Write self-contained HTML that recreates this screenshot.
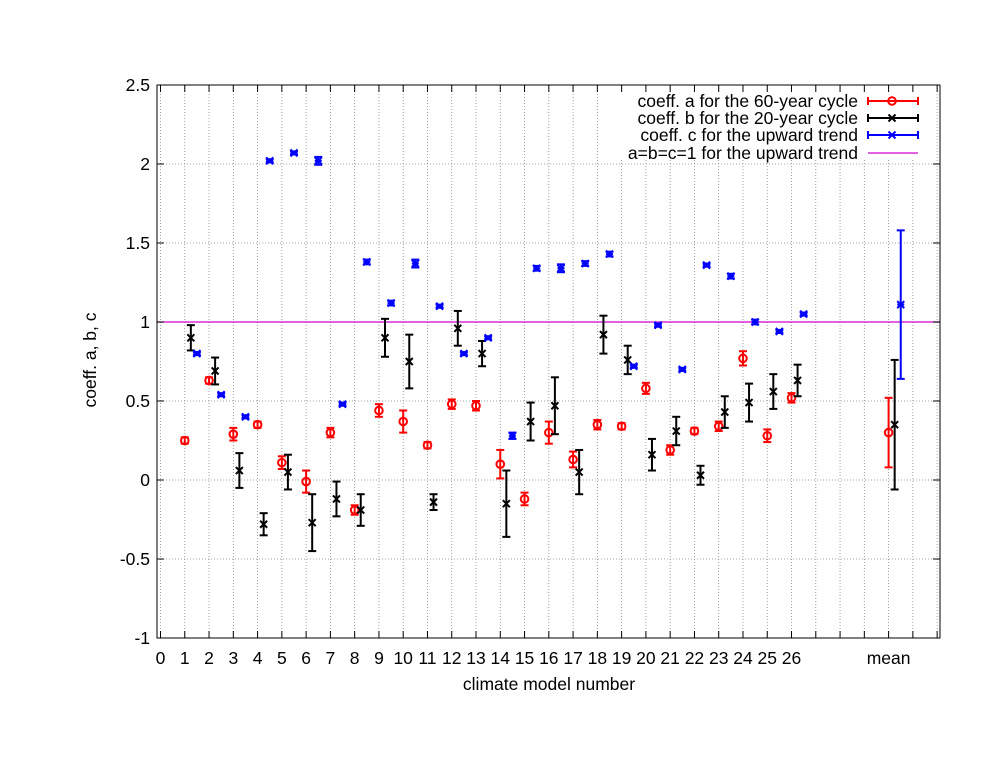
<!DOCTYPE html>
<html><head><meta charset="utf-8"><style>
body{margin:0;background:#fff}
svg text{font-family:"Liberation Sans",sans-serif;font-size:17.5px;fill:#000}
</style></head><body>
<svg id="s" width="994" height="768" xmlns="http://www.w3.org/2000/svg">
<rect width="994" height="768" fill="#fff"/>
<g id="grid" stroke="#888" stroke-width="0.8" stroke-dasharray="1,2"></g>
<line x1="157" y1="322" x2="940" y2="322" stroke="#d000d0" stroke-width="1.2"/>
<rect x="600" y="90" width="330" height="70" fill="#fff"/>
<g id="ticks" stroke="#000" stroke-width="1"></g>
<rect x="157" y="85" width="783" height="553" fill="none" stroke="#000" stroke-width="1"/>
<g id="lab"></g>
<g id="data"></g>
<g>
<text x="858" y="107" text-anchor="end">coeff. a for the 60-year cycle</text>
<text x="858" y="124" text-anchor="end">coeff. b for the 20-year cycle</text>
<text x="858" y="141" text-anchor="end">coeff. c for the upward trend</text>
<text x="858" y="159" text-anchor="end">a=b=c=1 for the upward trend</text>
<line x1="868" y1="153" x2="918" y2="153" stroke="#d000d0" stroke-width="1.2"/>
</g>
<text x="549" y="690" text-anchor="middle">climate model number</text>
<text transform="translate(96,360) rotate(-90)" text-anchor="middle">coeff. a, b, c</text>
</svg>
<script>
var NS="http://www.w3.org/2000/svg";
function el(p,t,a,txt){var e=document.createElementNS(NS,t);for(var k in a)e.setAttribute(k,a[k]);if(txt!==undefined)e.textContent=txt;document.getElementById(p).appendChild(e);return e;}
function X(v){return 160.5+v*24.27;}
function Y(v){return 480-v*158;}
var yl=["-1","-0.5","0","0.5","1","1.5","2","2.5"];
for(var i=0;i<8;i++){var v=-1+i*0.5,y=Y(v);
 if(i>0&&i<7)el("grid","line",{x1:157,x2:940,y1:y,y2:y});
 el("ticks","line",{x1:157,x2:164,y1:y,y2:y});el("ticks","line",{x1:940,x2:933,y1:y,y2:y});
 el("lab","text",{x:150,y:y+6,"text-anchor":"end"},yl[i]);}
var xt=[];for(var i=0;i<=26;i++)xt.push([i,""+i]);xt.push([30,"mean"]);xt.push([29,""]);xt.push([31,""]);xt.push([27,""]);xt.push([28,""]);xt.push([32,""]);
xt.forEach(function(t){var x=X(t[0]);if(x>940)return;
 el("grid","line",{x1:x,x2:x,y1:85,y2:638});
 el("ticks","line",{x1:x,x2:x,y1:638,y2:631});el("ticks","line",{x1:x,x2:x,y1:85,y2:92});
 if(t[1])el("lab","text",{x:x,y:664,"text-anchor":"middle"},t[1]);});
var d=[
[.25,.02,.90,.08,.80,.01],[.63,.02,.69,.085,.54,.01],[.29,.04,.06,.11,.40,.01],[.35,.02,-.28,.07,2.02,.01],
[.11,.04,.05,.11,2.07,.01],[-.01,.07,-.27,.18,2.02,.025],[.30,.03,-.12,.11,.48,.01],[-.19,.03,-.19,.10,1.38,.015],
[.44,.04,.90,.12,1.12,.015],[.37,.07,.75,.17,1.37,.025],[.22,.02,-.14,.05,1.10,.01],[.48,.03,.96,.11,.80,.01],
[.47,.03,.80,.08,.90,.01],[.10,.09,-.15,.21,.28,.02],[-.12,.04,.37,.12,1.34,.015],[.30,.07,.47,.18,1.34,.025],
[.13,.05,.05,.14,1.37,.015],[.35,.03,.92,.12,1.43,.015],[.34,.02,.76,.09,.72,.01],[.58,.035,.16,.10,.98,.01],
[.19,.03,.31,.09,.70,.01],[.31,.02,.03,.06,1.36,.01],[.34,.03,.43,.10,1.29,.015],[.77,.045,.49,.12,1.00,.015],
[.28,.04,.56,.11,.94,.01],[.52,.03,.63,.10,1.05,.01]];
function eb(x,v,e,c){var y1=Y(v-e),y2=Y(v+e);
 el("data","line",{x1:x,x2:x,y1:y1,y2:y2,stroke:c,"stroke-width":2});
 el("data","line",{x1:x-4,x2:x+4,y1:y1,y2:y1,stroke:c,"stroke-width":2});
 el("data","line",{x1:x-4,x2:x+4,y1:y2,y2:y2,stroke:c,"stroke-width":2});}
function circ(x,y){el("data","circle",{cx:x,cy:y,r:3.8,fill:"none",stroke:"#f00","stroke-width":2});}
function cross(x,y,c){var s=3.5;el("data","path",{d:"M"+(x-s)+" "+(y-s)+"L"+(x+s)+" "+(y+s)+"M"+(x-s)+" "+(y+s)+"L"+(x+s)+" "+(y-s),stroke:c,"stroke-width":2,fill:"none"});}
function star(x,y){cross(x,y,"#00f");el("data","line",{x1:x-3.5,x2:x+3.5,y1:y,y2:y,stroke:"#00f","stroke-width":2});}
function pt(i,r){var xa=X(i),xb=X(i+0.25),xc=X(i+0.5);
 eb(xa,r[0],r[1],"#f00");circ(xa,Y(r[0]));
 eb(xb,r[2],r[3],"#000");cross(xb,Y(r[2]),"#000");
 eb(xc,r[4],r[5],"#00f");star(xc,Y(r[4]));}
d.forEach(function(r,i){pt(i+1,r);});
pt(30,[.30,.22,.35,.41,1.11,.47]);
function lg(y,c){el("data","line",{x1:868,x2:918,y1:y,y2:y,stroke:c,"stroke-width":2});
 el("data","line",{x1:868,x2:868,y1:y-4,y2:y+4,stroke:c,"stroke-width":2});
 el("data","line",{x1:918,x2:918,y1:y-4,y2:y+4,stroke:c,"stroke-width":2});}
lg(101,"#f00");circ(892,101);lg(118,"#000");cross(892,118,"#000");lg(135,"#00f");star(892,135);
</script>
</body></html>
